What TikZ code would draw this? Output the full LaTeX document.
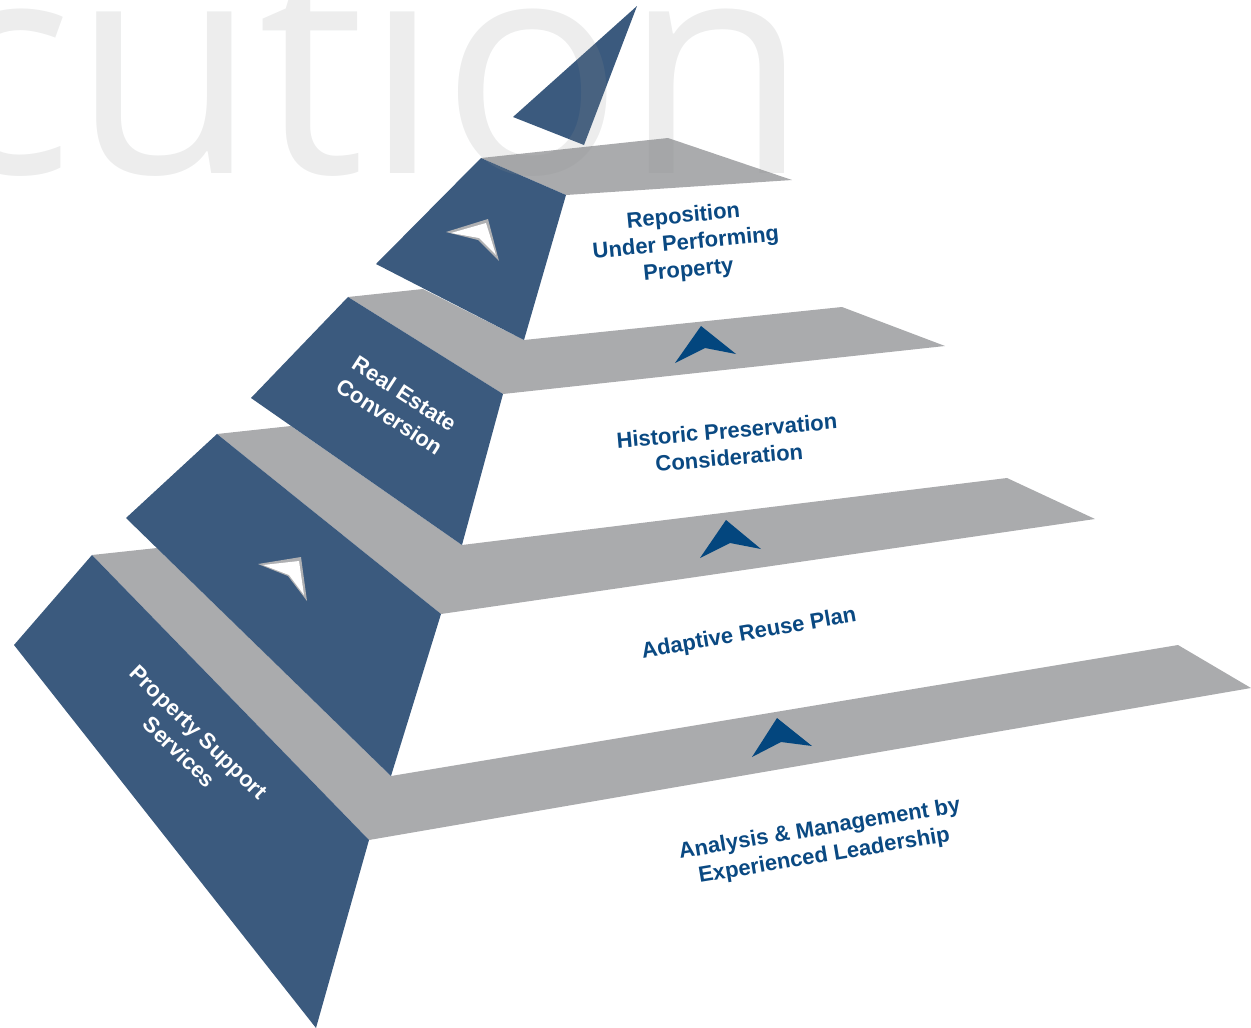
\documentclass[tikz,border=0pt]{standalone}
\usepackage{fontspec}
\setmainfont{Liberation Sans}
\newfontfamily\wordfont{Open Sans}
\definecolor{stepblue}{RGB}{59,90,126}
\definecolor{ledgegray}{RGB}{170,171,173}
\definecolor{markblue}{RGB}{3,70,126}
\definecolor{textblue}{RGB}{10,73,130}
\definecolor{rimgray}{RGB}{175,176,178}
\definecolor{wordgray}{RGB}{140,143,143}

\begin{document}
\begin{tikzpicture}[x=1pt, y=-1pt,
  block/.style={fill=stepblue},
  ledge/.style={fill=ledgegray},
  upmark/.style={fill=markblue},
  steptext/.style={text=textblue, align=center, inner sep=0pt, font=\fontsize{22}{27}\selectfont\bfseries},
  sidetext/.style={text=white, align=center, inner sep=0pt, font=\fontsize{22}{27.5}\selectfont\bfseries}]
\useasboundingbox (0,0) rectangle (1251,1028);
\clip (0,0) rectangle (1251,1028);

% ledges
\fill[ledge] (481,158) -- (668,138) -- (792,180) -- (566,195) -- cycle;
\fill[ledge] (348,297) -- (423,289) -- (524,340) -- (842,307) -- (945,346) -- (503,394) -- cycle;
\fill[ledge] (217,434) -- (291,426) -- (462,545) -- (1007,478) -- (1095,519) -- (441,614) -- cycle;
\fill[ledge] (92,555) -- (157,548) -- (391,776) -- (1178,645) -- (1251,688) -- (369,840) -- cycle;

% step faces
\fill[block] (637,6) -- (513,117) -- (584,145) -- cycle;
\fill[block] (481,158) -- (376,264) -- (524,340) -- (566,195) -- cycle;
\fill[block] (348,297) -- (251,398) -- (462,545) -- (503,394) -- cycle;
\fill[block] (217,434) -- (126,518) -- (391,776) -- (441,614) -- cycle;
\fill[block] (92,555) -- (14,645) -- (316,1028) -- (369,840) -- cycle;

% white pointers
\fill[rimgray] (446,232) -- (488,219) -- (499,261) -- (478,240) -- cycle;
\fill[white] (451,233) -- (486,223) -- (496,255) -- (479,238) -- cycle;
\fill[rimgray] (258,564) -- (301,557) -- (307,601) -- (288,576) -- cycle;
\fill[white] (263,565) -- (299,561) -- (304,595) -- (289,575) -- cycle;

% blue pointers on the ledges
\fill[upmark] (701,326) -- (736,354) -- (705,348) -- (675,363) -- cycle;
\fill[upmark] (726,520) -- (761,549) -- (730,543) -- (700,558) -- cycle;
\fill[upmark] (777,718) -- (812,746) -- (781,742) -- (752,757) -- cycle;

\node[steptext, rotate=5.5] (reposition) at (686,244) {Reposition\\Under Performing\\Property};
\node[steptext, rotate=5] (historic) at (728,444) {Historic Preservation\\Consideration};
\node[steptext, rotate=9.8] (adaptive) at (749,634) {Adaptive Reuse Plan};
\node[steptext, rotate=9.5] (analysis) at (822,843) {Analysis \& Management by\\Experienced Leadership};
\node[sidetext, rotate=-33] (conversion) at (397,405) {Real Estate\\Conversion};
\node[sidetext, rotate=-44] (support) at (189,742) {Property Support\\Services};

% faint lettering over the top
\node[anchor=base west, inner sep=0pt, text=wordgray, opacity=0.16,
      font=\wordfont\fontsize{302}{302}\selectfont] (backword) at (-71,173) {cution};
\end{tikzpicture}
\end{document}
